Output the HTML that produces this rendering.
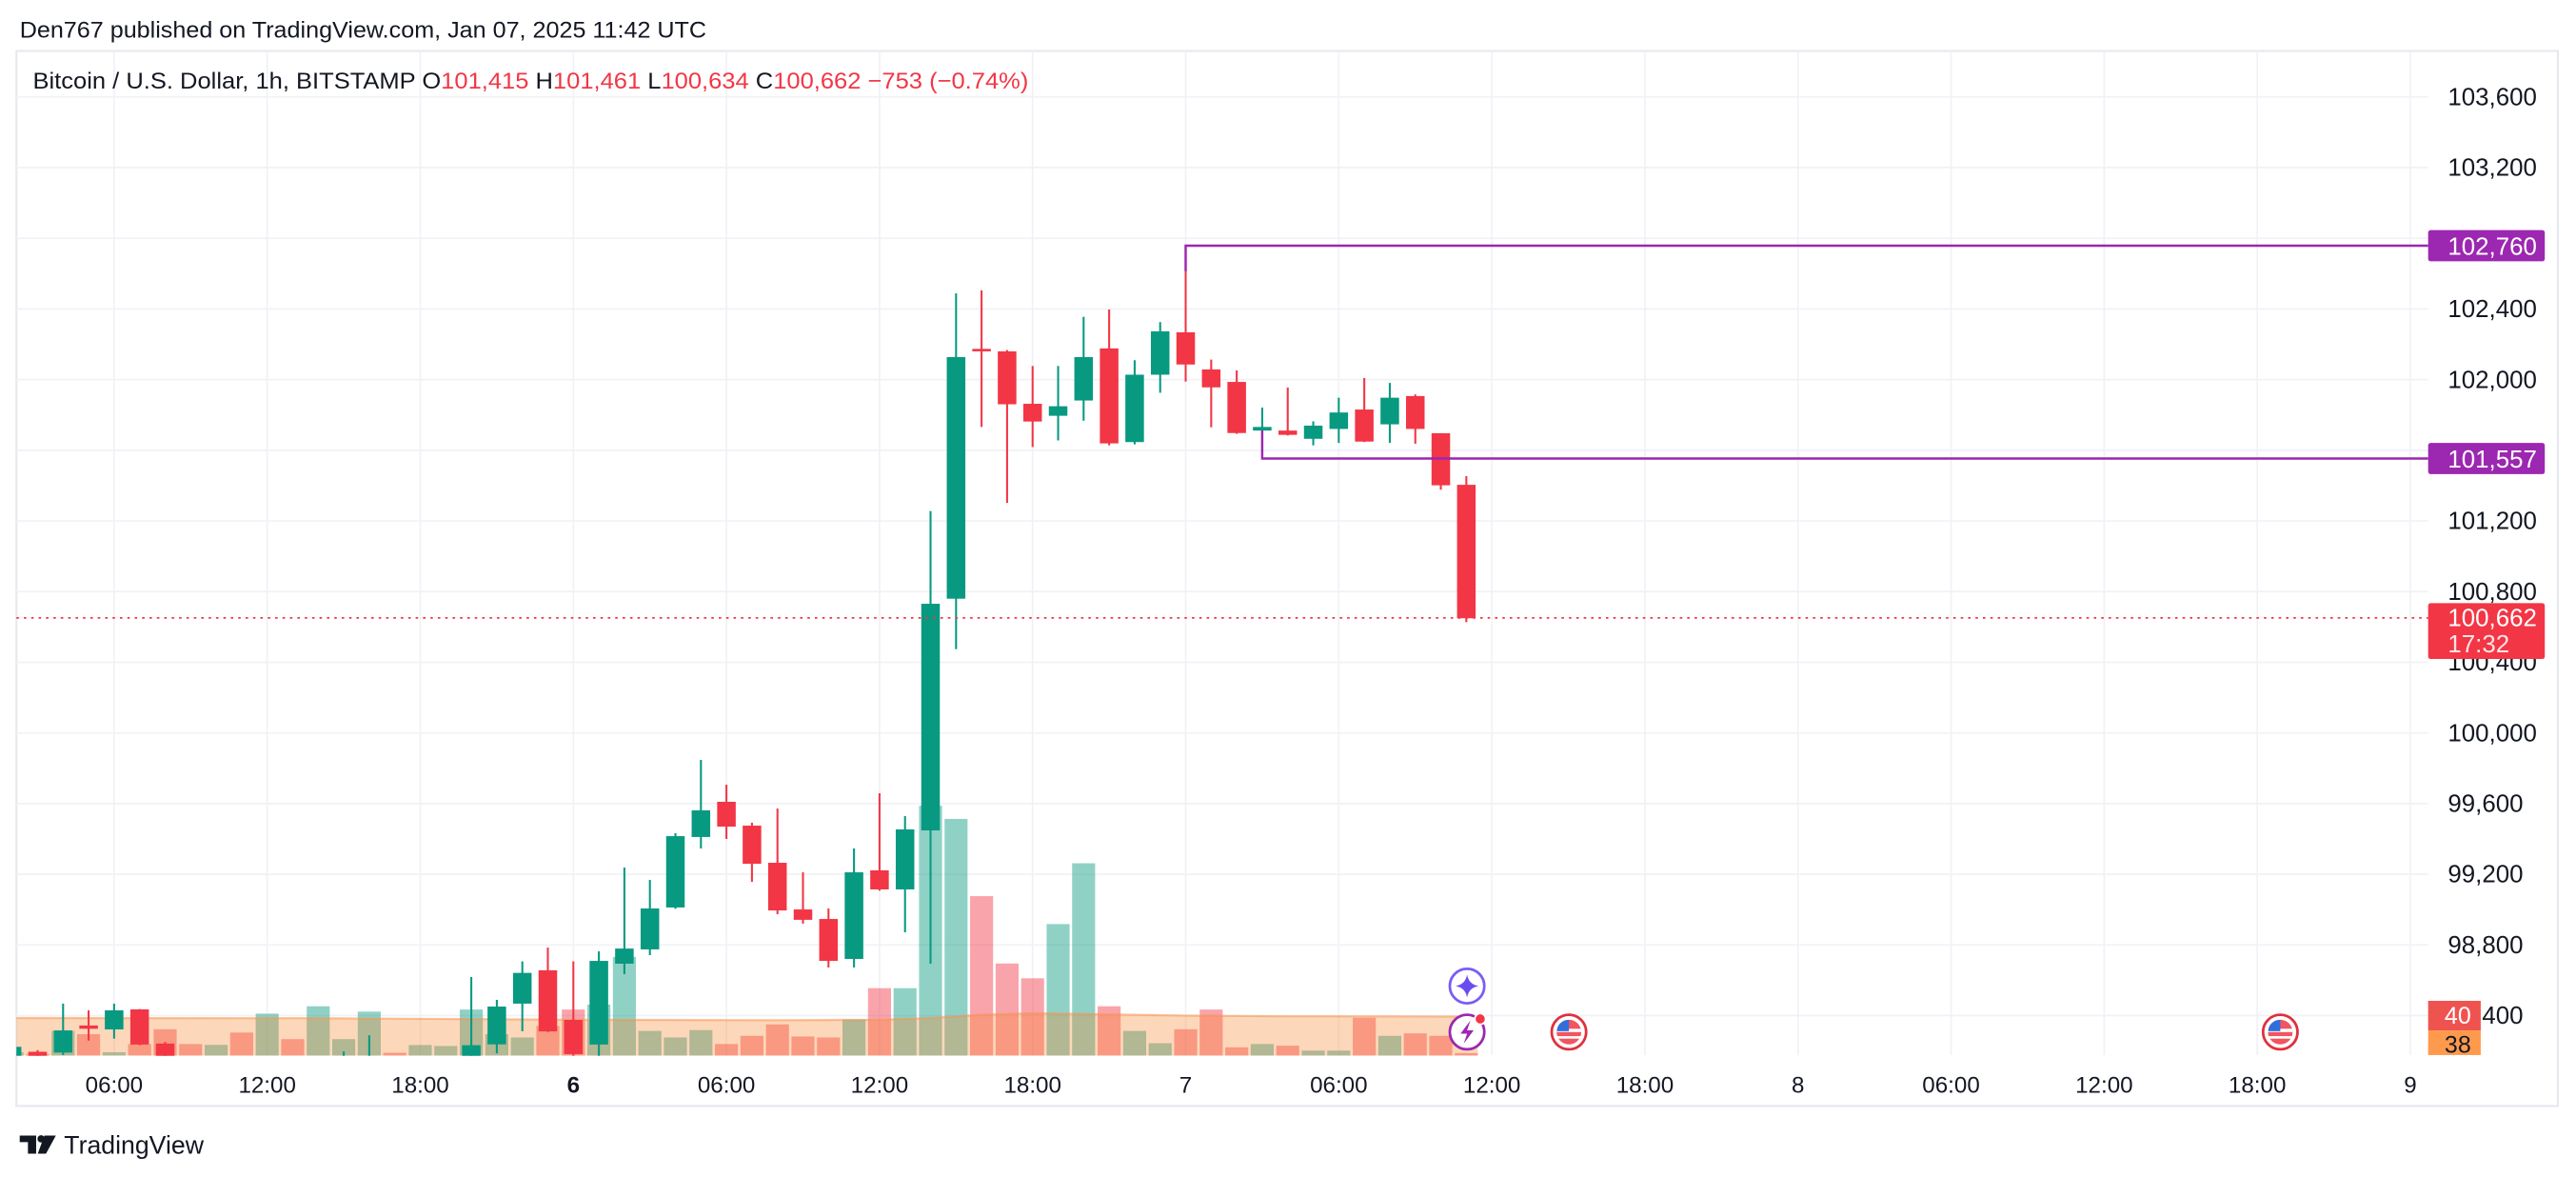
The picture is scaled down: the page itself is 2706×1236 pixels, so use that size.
<!DOCTYPE html>
<html><head><meta charset="utf-8"><style>
html,body{margin:0;padding:0;background:#fff;}
svg{display:block;}
text{font-family:"Liberation Sans",Arial,sans-serif;}
.vg{fill:rgba(8,153,129,0.45);} .vr{fill:rgba(242,54,69,0.45);}
.cg rect{fill:#089981;} .cr rect{fill:#f23645;}
</style></head><body>
<svg width="2706" height="1236" viewBox="0 0 1568 716.2" preserveAspectRatio="none" xmlns="http://www.w3.org/2000/svg">
<defs><clipPath id="pc"><rect x="10" y="31" width="1468" height="611.5"/></clipPath></defs>
<rect x="0" y="0" width="1568" height="716.2" fill="#fff"/>
<text x="12" y="23" font-size="14.2" fill="#131722" textLength="418" lengthAdjust="spacingAndGlyphs">Den767 published on TradingView.com, Jan 07, 2025 11:42 UTC</text>
<rect x="10" y="31" width="1547" height="642" fill="none" stroke="#e6e8ee" stroke-width="1.2"/>
<g stroke="#f0f2f6" stroke-width="1">
<line x1="10" x2="1478" y1="59" y2="59"/><line x1="10" x2="1478" y1="102" y2="102"/><line x1="10" x2="1478" y1="145" y2="145"/><line x1="10" x2="1478" y1="188" y2="188"/><line x1="10" x2="1478" y1="231" y2="231"/><line x1="10" x2="1478" y1="274" y2="274"/><line x1="10" x2="1478" y1="317" y2="317"/><line x1="10" x2="1478" y1="360" y2="360"/><line x1="10" x2="1478" y1="403" y2="403"/><line x1="10" x2="1478" y1="446" y2="446"/><line x1="10" x2="1478" y1="489" y2="489"/><line x1="10" x2="1478" y1="532" y2="532"/><line x1="10" x2="1478" y1="575" y2="575"/><line x1="10" x2="1478" y1="618" y2="618"/>
<g transform="translate(-1.5 0)">
<line x1="70.96" x2="70.96" y1="31" y2="642"/><line x1="164.14" x2="164.14" y1="31" y2="642"/><line x1="257.32" x2="257.32" y1="31" y2="642"/><line x1="350.5" x2="350.5" y1="31" y2="642"/><line x1="443.68" x2="443.68" y1="31" y2="642"/><line x1="536.86" x2="536.86" y1="31" y2="642"/><line x1="630.04" x2="630.04" y1="31" y2="642"/><line x1="723.22" x2="723.22" y1="31" y2="642"/><line x1="816.4" x2="816.4" y1="31" y2="642"/><line x1="909.58" x2="909.58" y1="31" y2="642"/><line x1="1002.76" x2="1002.76" y1="31" y2="642"/><line x1="1095.94" x2="1095.94" y1="31" y2="642"/><line x1="1189.12" x2="1189.12" y1="31" y2="642"/><line x1="1282.3" x2="1282.3" y1="31" y2="642"/><line x1="1375.48" x2="1375.48" y1="31" y2="642"/><line x1="1468.66" x2="1468.66" y1="31" y2="642"/>
</g>
</g>
<text x="20" y="54" font-size="14" fill="#131722" textLength="606" lengthAdjust="spacingAndGlyphs">Bitcoin / U.S. Dollar, 1h, BITSTAMP  O<tspan fill="#f23645">101,415</tspan>  H<tspan fill="#f23645">101,461</tspan>  L<tspan fill="#f23645">100,634</tspan>  C<tspan fill="#f23645">100,662</tspan>  <tspan fill="#f23645">−753 (−0.74%)</tspan></text>

<g clip-path="url(#pc)">
<g transform="translate(-1.5 0)">
<rect class="vg" x="1.84" y="640.3" width="14" height="2"/>
<rect class="vr" x="17.37" y="641.3" width="14" height="1"/>
<rect class="vg" x="32.9" y="627.3" width="14" height="15"/>
<rect class="vr" x="48.43" y="629.3" width="14" height="13"/>
<rect class="vg" x="63.96" y="640.3" width="14" height="2"/>
<rect class="vr" x="79.49" y="635.3" width="14" height="7"/>
<rect class="vr" x="95.02" y="626.3" width="14" height="16"/>
<rect class="vr" x="110.55" y="635.3" width="14" height="7"/>
<rect class="vg" x="126.08" y="635.8" width="14" height="6.5"/>
<rect class="vr" x="141.61" y="628.3" width="14" height="14"/>
<rect class="vg" x="157.14" y="616.8" width="14" height="25.5"/>
<rect class="vr" x="172.67" y="632.3" width="14" height="10"/>
<rect class="vg" x="188.2" y="612.3" width="14" height="30"/>
<rect class="vg" x="203.73" y="632.3" width="14" height="10"/>
<rect class="vg" x="219.26" y="615.6" width="14" height="26.7"/>
<rect class="vr" x="234.79" y="640.6" width="14" height="1.7"/>
<rect class="vg" x="250.32" y="635.9" width="14" height="6.4"/>
<rect class="vg" x="265.85" y="636.5" width="14" height="5.8"/>
<rect class="vg" x="281.38" y="614.3" width="14" height="28"/>
<rect class="vg" x="296.91" y="629.3" width="14" height="13"/>
<rect class="vg" x="312.44" y="631.3" width="14" height="11"/>
<rect class="vr" x="327.97" y="624.3" width="14" height="18"/>
<rect class="vr" x="343.5" y="614.3" width="14" height="28"/>
<rect class="vg" x="359.03" y="611.3" width="14" height="31"/>
<rect class="vg" x="374.56" y="582.3" width="14" height="60"/>
<rect class="vg" x="390.09" y="627.3" width="14" height="15"/>
<rect class="vg" x="405.62" y="631.3" width="14" height="11"/>
<rect class="vg" x="421.15" y="626.8" width="14" height="15.5"/>
<rect class="vr" x="436.68" y="635.3" width="14" height="7"/>
<rect class="vr" x="452.21" y="630.3" width="14" height="12"/>
<rect class="vr" x="467.74" y="623.3" width="14" height="19"/>
<rect class="vr" x="483.27" y="630.7" width="14" height="11.6"/>
<rect class="vr" x="498.8" y="631.3" width="14" height="11"/>
<rect class="vg" x="514.33" y="620.3" width="14" height="22"/>
<rect class="vr" x="529.86" y="601.3" width="14" height="41"/>
<rect class="vg" x="545.39" y="601.3" width="14" height="41"/>
<rect class="vg" x="560.92" y="490.3" width="14" height="152"/>
<rect class="vg" x="576.45" y="498.3" width="14" height="144"/>
<rect class="vr" x="591.98" y="545.3" width="14" height="97"/>
<rect class="vr" x="607.51" y="586.3" width="14" height="56"/>
<rect class="vr" x="623.04" y="595.3" width="14" height="47"/>
<rect class="vg" x="638.57" y="562.3" width="14" height="80"/>
<rect class="vg" x="654.1" y="525.3" width="14" height="117"/>
<rect class="vr" x="669.63" y="612.3" width="14" height="30"/>
<rect class="vg" x="685.16" y="627.3" width="14" height="15"/>
<rect class="vg" x="700.69" y="634.8" width="14" height="7.5"/>
<rect class="vr" x="716.22" y="626.3" width="14" height="16"/>
<rect class="vr" x="731.75" y="614.3" width="14" height="28"/>
<rect class="vr" x="747.28" y="637.3" width="14" height="5"/>
<rect class="vg" x="762.81" y="635.3" width="14" height="7"/>
<rect class="vr" x="778.34" y="636.3" width="14" height="6"/>
<rect class="vg" x="793.87" y="639.3" width="14" height="3"/>
<rect class="vg" x="809.4" y="639.3" width="14" height="3"/>
<rect class="vr" x="824.93" y="619.3" width="14" height="23"/>
<rect class="vg" x="840.46" y="630.3" width="14" height="12"/>
<rect class="vr" x="855.99" y="628.8" width="14" height="13.5"/>
<rect class="vr" x="871.52" y="630.3" width="14" height="12"/>
<rect class="vr" x="887.05" y="640.8" width="14" height="1.5"/>
<path fill="rgba(250,130,40,0.32)" d="M0 642.3 L0 619.4 L195.2 619.6 L350.5 620.5 L474.74 620.8 L536.86 620.5 L567.92 619.5 L598.98 617.5 L630.04 616.5 L661.1 617 L723.22 618 L785.34 618.4 L901.05 618.6 V642.3 Z"/>
<polyline fill="none" stroke="rgba(245,150,80,0.55)" stroke-width="1.3" points="0,619.4 195.2,619.6 350.5,620.5 474.74,620.8 536.86,620.5 567.92,619.5 598.98,617.5 630.04,616.5 661.1,617 723.22,618 785.34,618.4 901.05,618.6"/>

<g class="cg" transform="translate(8.84 0)"><rect x="-0.6" y="636" width="1.2" height="9"/><rect x="-5.65" y="637" width="11.3" height="6"/></g>
<g class="cr" transform="translate(24.37 0)"><rect x="-0.6" y="639" width="1.2" height="5"/><rect x="-5.65" y="640" width="11.3" height="3"/></g>
<g class="cg" transform="translate(39.9 0)"><rect x="-0.6" y="610.7" width="1.2" height="31.3"/><rect x="-5.65" y="627" width="11.3" height="13.5"/></g>
<g class="cr" transform="translate(55.43 0)"><rect x="-0.6" y="614.8" width="1.2" height="18.4"/><rect x="-5.65" y="624" width="11.3" height="2"/></g>
<g class="cg" transform="translate(70.96 0)"><rect x="-0.6" y="610.7" width="1.2" height="21.3"/><rect x="-5.65" y="614.8" width="11.3" height="11.6"/></g>
<g class="cr" transform="translate(86.49 0)"><rect x="-0.6" y="614" width="1.2" height="22"/><rect x="-5.65" y="614.2" width="11.3" height="21.4"/></g>
<g class="cr" transform="translate(102.02 0)"><rect x="-0.6" y="634" width="1.2" height="14"/><rect x="-5.65" y="635" width="11.3" height="10"/></g>
<g class="cg" transform="translate(210.73 0)"><rect x="-0.6" y="639.8" width="1.2" height="10.2"/></g>
<g class="cg" transform="translate(226.26 0)"><rect x="-0.6" y="630" width="1.2" height="20"/></g>
<g class="cg" transform="translate(288.38 0)"><rect x="-0.6" y="594.5" width="1.2" height="51.5"/><rect x="-5.65" y="636" width="11.3" height="7"/></g>
<g class="cg" transform="translate(303.91 0)"><rect x="-0.6" y="608.4" width="1.2" height="32.6"/><rect x="-5.65" y="612.5" width="11.3" height="23"/></g>
<g class="cg" transform="translate(319.44 0)"><rect x="-0.6" y="585" width="1.2" height="42.5"/><rect x="-5.65" y="592" width="11.3" height="18.7"/></g>
<g class="cr" transform="translate(334.97 0)"><rect x="-0.6" y="576.6" width="1.2" height="51.4"/><rect x="-5.65" y="590.4" width="11.3" height="37.2"/></g>
<g class="cr" transform="translate(350.5 0)"><rect x="-0.6" y="585" width="1.2" height="58"/><rect x="-5.65" y="620.6" width="11.3" height="20.8"/></g>
<g class="cg" transform="translate(366.03 0)"><rect x="-0.6" y="578.9" width="1.2" height="64.1"/><rect x="-5.65" y="584.7" width="11.3" height="50.9"/></g>
<g class="cg" transform="translate(381.56 0)"><rect x="-0.6" y="527.9" width="1.2" height="64.9"/><rect x="-5.65" y="577.2" width="11.3" height="9.2"/></g>
<g class="cg" transform="translate(397.09 0)"><rect x="-0.6" y="535.4" width="1.2" height="45.8"/><rect x="-5.65" y="552.8" width="11.3" height="24.9"/></g>
<g class="cg" transform="translate(412.62 0)"><rect x="-0.6" y="507" width="1.2" height="46"/><rect x="-5.65" y="508.8" width="11.3" height="43.4"/></g>
<g class="cg" transform="translate(428.15 0)"><rect x="-0.6" y="462.4" width="1.2" height="53.9"/><rect x="-5.65" y="493.1" width="11.3" height="16.2"/></g>
<g class="cr" transform="translate(443.68 0)"><rect x="-0.6" y="477.5" width="1.2" height="33"/><rect x="-5.65" y="487.9" width="11.3" height="15.1"/></g>
<g class="cr" transform="translate(459.21 0)"><rect x="-0.6" y="500.6" width="1.2" height="36"/><rect x="-5.65" y="502.4" width="11.3" height="23.2"/></g>
<g class="cr" transform="translate(474.74 0)"><rect x="-0.6" y="492" width="1.2" height="64.3"/><rect x="-5.65" y="525" width="11.3" height="29"/></g>
<g class="cr" transform="translate(490.27 0)"><rect x="-0.6" y="530.8" width="1.2" height="31.2"/><rect x="-5.65" y="553.4" width="11.3" height="6.3"/></g>
<g class="cr" transform="translate(505.8 0)"><rect x="-0.6" y="552.8" width="1.2" height="35.9"/><rect x="-5.65" y="559.2" width="11.3" height="25.5"/></g>
<g class="cg" transform="translate(521.33 0)"><rect x="-0.6" y="516.3" width="1.2" height="72.4"/><rect x="-5.65" y="530.8" width="11.3" height="52.7"/></g>
<g class="cr" transform="translate(536.86 0)"><rect x="-0.6" y="482.7" width="1.2" height="59.3"/><rect x="-5.65" y="529.6" width="11.3" height="11.6"/></g>
<g class="cg" transform="translate(552.39 0)"><rect x="-0.6" y="496.6" width="1.2" height="70.7"/><rect x="-5.65" y="504.7" width="11.3" height="36.5"/></g>
<g class="cg" transform="translate(567.92 0)"><rect x="-0.6" y="311" width="1.2" height="275.4"/><rect x="-5.65" y="367.4" width="11.3" height="137.9"/></g>
<g class="cg" transform="translate(583.45 0)"><rect x="-0.6" y="178.5" width="1.2" height="216.5"/><rect x="-5.65" y="217.3" width="11.3" height="147"/></g>
<g class="cr" transform="translate(598.98 0)"><rect x="-0.6" y="176.7" width="1.2" height="83.1"/><rect x="-5.65" y="212.3" width="11.3" height="1.5"/></g>
<g class="cr" transform="translate(614.51 0)"><rect x="-0.6" y="213" width="1.2" height="93"/><rect x="-5.65" y="213.8" width="11.3" height="32.2"/></g>
<g class="cr" transform="translate(630.04 0)"><rect x="-0.6" y="222.7" width="1.2" height="49.3"/><rect x="-5.65" y="245.7" width="11.3" height="10.8"/></g>
<g class="cg" transform="translate(645.57 0)"><rect x="-0.6" y="222.7" width="1.2" height="45.3"/><rect x="-5.65" y="247.2" width="11.3" height="5.8"/></g>
<g class="cg" transform="translate(661.1 0)"><rect x="-0.6" y="192.8" width="1.2" height="63.2"/><rect x="-5.65" y="217.3" width="11.3" height="26.4"/></g>
<g class="cr" transform="translate(676.63 0)"><rect x="-0.6" y="188.3" width="1.2" height="82.7"/><rect x="-5.65" y="212" width="11.3" height="57.8"/></g>
<g class="cg" transform="translate(692.16 0)"><rect x="-0.6" y="219.2" width="1.2" height="51.2"/><rect x="-5.65" y="228" width="11.3" height="41"/></g>
<g class="cg" transform="translate(707.69 0)"><rect x="-0.6" y="196" width="1.2" height="43"/><rect x="-5.65" y="201.6" width="11.3" height="26.4"/></g>
<g class="cr" transform="translate(723.22 0)"><rect x="-0.6" y="149.5" width="1.2" height="82.7"/><rect x="-5.65" y="202.2" width="11.3" height="19.6"/></g>
<g class="cr" transform="translate(738.75 0)"><rect x="-0.6" y="218.8" width="1.2" height="41.2"/><rect x="-5.65" y="224.8" width="11.3" height="10.9"/></g>
<g class="cr" transform="translate(754.28 0)"><rect x="-0.6" y="225.4" width="1.2" height="38.6"/><rect x="-5.65" y="232.4" width="11.3" height="31.1"/></g>
<g class="cg" transform="translate(769.81 0)"><rect x="-0.6" y="248" width="1.2" height="31"/><rect x="-5.65" y="259.8" width="11.3" height="2.2"/></g>
<g class="cr" transform="translate(785.34 0)"><rect x="-0.6" y="235.8" width="1.2" height="29.2"/><rect x="-5.65" y="262" width="11.3" height="2.6"/></g>
<g class="cg" transform="translate(800.87 0)"><rect x="-0.6" y="256.4" width="1.2" height="14.6"/><rect x="-5.65" y="259" width="11.3" height="8"/></g>
<g class="cg" transform="translate(816.4 0)"><rect x="-0.6" y="242" width="1.2" height="27.5"/><rect x="-5.65" y="251" width="11.3" height="10"/></g>
<g class="cr" transform="translate(831.93 0)"><rect x="-0.6" y="230" width="1.2" height="39"/><rect x="-5.65" y="249.2" width="11.3" height="19.5"/></g>
<g class="cg" transform="translate(847.46 0)"><rect x="-0.6" y="233" width="1.2" height="36.5"/><rect x="-5.65" y="242" width="11.3" height="16.2"/></g>
<g class="cr" transform="translate(862.99 0)"><rect x="-0.6" y="240" width="1.2" height="30"/><rect x="-5.65" y="241" width="11.3" height="20"/></g>
<g class="cr" transform="translate(878.52 0)"><rect x="-0.6" y="263.6" width="1.2" height="34.4"/><rect x="-5.65" y="263.6" width="11.3" height="31.7"/></g>
<g class="cr" transform="translate(894.05 0)"><rect x="-0.6" y="289.7" width="1.2" height="88.9"/><rect x="-5.65" y="295" width="11.3" height="81.2"/></g>
</g>
</g>

<line x1="10" y1="376" x2="1478" y2="376" stroke="#f23645" stroke-width="1" stroke-dasharray="1.5,3"/>
<path d="M721.7 165 V149.5 H1478" fill="none" stroke="#9c27b0" stroke-width="1.4"/>
<path d="M768.3 262 V279 H1478" fill="none" stroke="#9c27b0" stroke-width="1.4"/>

<g font-size="15" fill="#131722">
<text x="1490" y="64">103,600</text><text x="1490" y="107">103,200</text><text x="1490" y="193">102,400</text><text x="1490" y="236">102,000</text><text x="1490" y="322">101,200</text><text x="1490" y="365">100,800</text><text x="1490" y="408">100,400</text><text x="1490" y="451">100,000</text><text x="1490" y="494">99,600</text><text x="1490" y="537">99,200</text><text x="1490" y="580">98,800</text><text x="1490" y="623">98,400</text>
</g>
<rect x="1478" y="140" width="71" height="19" rx="1.5" fill="#9c27b0"/>
<text x="1490" y="155" font-size="15" fill="#fff">102,760</text>
<rect x="1478" y="269.5" width="71" height="19" rx="1.5" fill="#9c27b0"/>
<text x="1490" y="284.5" font-size="15" fill="#fff">101,557</text>
<rect x="1478" y="367" width="71" height="34" rx="1.5" fill="#f23645"/>
<text x="1490" y="381" font-size="15" fill="#fff">100,662</text>
<text x="1490" y="397" font-size="15" fill="#fde3e5">17:32</text>
<rect x="1478" y="609" width="32" height="18" fill="#ef5350"/>
<text x="1488" y="623" font-size="14.5" fill="#fff">40</text>
<rect x="1478" y="627" width="32" height="15" fill="#ff9a4d"/>
<text x="1488" y="640.5" font-size="14.5" fill="#131722">38</text>

<g font-size="14" fill="#131722" text-anchor="middle" transform="translate(-1.5 0)">
<text x="70.96" y="665">06:00</text><text x="164.14" y="665">12:00</text><text x="257.32" y="665">18:00</text><text x="350.5" y="665" font-weight="bold">6</text><text x="443.68" y="665">06:00</text><text x="536.86" y="665">12:00</text><text x="630.04" y="665">18:00</text><text x="723.22" y="665">7</text><text x="816.4" y="665">06:00</text><text x="909.58" y="665">12:00</text><text x="1002.76" y="665">18:00</text><text x="1095.94" y="665">8</text><text x="1189.12" y="665">06:00</text><text x="1282.3" y="665">12:00</text><text x="1375.48" y="665">18:00</text><text x="1468.66" y="665">9</text>
</g>

<circle cx="893" cy="600" r="10.5" fill="#fff" stroke="#7b5cf5" stroke-width="1.6"/>
<path d="M893 593 Q894 599 900 600 Q894 601 893 607 Q892 601 886 600 Q892 599 893 593Z" fill="#6a4df0"/>
<circle cx="893" cy="628" r="10.5" fill="#fff" stroke="#9c27b0" stroke-width="1.6"/>
<path d="M895 621 L889 629 H893 L891 635 L897 627 H893Z" fill="#9c27b0"/>
<circle cx="901" cy="620" r="3.3" fill="#f23645" stroke="#fff" stroke-width="1"/>

<g transform="translate(955 628)">
<circle r="10.5" fill="#fff" stroke="#e0303d" stroke-width="1.6"/>
<circle r="7.5" fill="#f1555f"/>
<rect x="-7.5" y="-2" width="15" height="2" fill="#fff"/><rect x="-7.5" y="2.5" width="15" height="1.5" fill="#fff"/>
<path d="M-7.3 -1.5 A7.5 7.5 0 0 1 0 -7.5 V-0.5 H-7.3Z" fill="#2f6fdc"/>
</g>
<g transform="translate(1388 628)">
<circle r="10.5" fill="#fff" stroke="#e0303d" stroke-width="1.6"/>
<circle r="7.5" fill="#f1555f"/>
<rect x="-7.5" y="-2" width="15" height="2" fill="#fff"/><rect x="-7.5" y="2.5" width="15" height="1.5" fill="#fff"/>
<path d="M-7.3 -1.5 A7.5 7.5 0 0 1 0 -7.5 V-0.5 H-7.3Z" fill="#2f6fdc"/>
</g>

<path d="M12 691 H22 V702 H17 V695 H12Z" fill="#131722"/>
<circle cx="25" cy="693" r="2.2" fill="#131722"/>
<path d="M27 691 H34 L28 702 H23Z" fill="#131722"/>
<text x="39" y="702" font-size="15.5" fill="#131722" textLength="85" lengthAdjust="spacingAndGlyphs">TradingView</text>
</svg>
</body></html>
